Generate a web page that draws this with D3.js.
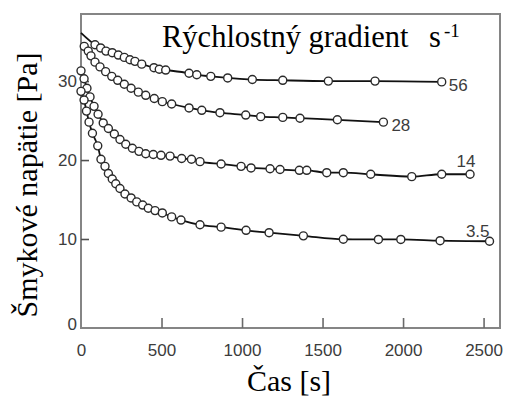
<!DOCTYPE html>
<html>
<head>
<meta charset="utf-8">
<script src="https://cdn.jsdelivr.net/npm/d3@7"></script>
<style>
  body { margin: 0; background: #fff; }
  svg { display: block; }
</style>
</head>
<body>
<div id="chart"></div>
<script>
// shear rate series (s^-1): time [s] and shear stress [Pa]
const seriesNames = ['56', '28', '14', '3.5'];

const t56 = [0, 87, 122, 155, 194, 232, 269, 304, 335, 377, 453, 486, 526, 671, 719, 806, 911, 1064, 1253, 1536, 1826, 2240];
const v56 = [36.1, 34.6, 34.2, 33.8, 33.6, 33.3, 33.0, 32.7, 32.5, 32.15, 31.7, 31.5, 31.4, 31.0, 30.8, 30.6, 30.4, 30.2, 30.1, 30.0, 30.0, 29.9];

const t28 = [20, 45, 62, 87, 118, 153, 191, 228, 269, 311, 356, 402, 455, 505, 563, 671, 750, 863, 1023, 1116, 1253, 1360, 1592, 1878];
const v28 = [34.4, 33.8, 33.2, 32.4, 31.8, 31.2, 30.6, 30.1, 29.6, 29.1, 28.6, 28.2, 27.8, 27.4, 27.1, 26.6, 26.3, 26.0, 25.7, 25.5, 25.4, 25.3, 25.1, 24.8];

const t14 = [0, 19, 37, 56, 81, 106, 138, 170, 207, 242, 278, 319, 360, 402, 449, 497, 553, 625, 686, 739, 870, 994, 1056, 1174, 1236, 1356, 1402, 1526, 1629, 1799, 2054, 2240, 2416];
const v14 = [31.3, 30.3, 29.1, 28.0, 26.8, 25.8, 24.7, 24.0, 23.3, 22.6, 22.0, 21.5, 21.1, 20.8, 20.7, 20.6, 20.5, 20.2, 20.1, 19.8, 19.5, 19.2, 19.0, 18.9, 18.8, 18.7, 18.7, 18.4, 18.4, 18.2, 17.9, 18.2, 18.2];

const t3 = [0, 19, 34, 50, 71, 104, 124, 149, 170, 194, 216, 242, 273, 311, 346, 383, 418, 460, 505, 563, 621, 739, 870, 1025, 1168, 1381, 1629, 1847, 1986, 2230, 2537];
const v3 = [28.7, 27.6, 26.2, 24.8, 23.4, 21.8, 20.1, 19.2, 18.3, 17.6, 17.0, 16.4, 15.7, 15.2, 14.7, 14.3, 13.9, 13.6, 13.3, 12.8, 12.4, 11.8, 11.5, 11.1, 10.8, 10.4, 9.97, 9.95, 9.95, 9.81, 9.75];

const xTicks = [0, 500, 1000, 1500, 2000, 2500];
const yTicks = [0, 10, 20, 30];

const series = [
  { name: seriesNames[0], t: t56, v: v56, markFrom: 1 },
  { name: seriesNames[1], t: t28, v: v28, markFrom: 0 },
  { name: seriesNames[2], t: t14, v: v14, markFrom: 0 },
  { name: seriesNames[3], t: t3, v: v3, markFrom: 0 },
];

const width = 506;
const height = 397;
const plotLeft = 81, plotRight = 500, plotTop = 14, plotBottom = 328;

const svg = d3.select('#chart')
  .append('svg')
  .attr('width', width)
  .attr('height', height);

const x = d3.scaleLinear().domain([0, 2602]).range([plotLeft, plotRight]);
// the printed axis is a bit stretched below 10
const y = d3.scaleLinear().domain([0, 10, 38.5]).range([plotBottom, 239, plotTop]);

const tickFont = '"Liberation Sans", Arial, sans-serif';
const serif = '"Liberation Serif", "Times New Roman", serif';

// frame
svg.append('rect')
  .attr('x', plotLeft)
  .attr('y', plotTop)
  .attr('width', plotRight - plotLeft)
  .attr('height', plotBottom - plotTop)
  .attr('fill', 'none')
  .attr('stroke', '#858585')
  .attr('stroke-width', 2);

// x axis
const xAxis = svg.append('g')
  .attr('transform', `translate(0,${plotBottom})`)
  .call(d3.axisBottom(x).tickValues(xTicks).tickSize(-10).tickPadding(16).tickFormat(d3.format('d')));
xAxis.select('.domain').remove();
xAxis.selectAll('.tick line').attr('stroke', '#6a6a6a').attr('stroke-width', 1.6)
  .filter(d => d === 0).remove();
xAxis.selectAll('.tick text')
  .attr('font-family', tickFont)
  .attr('font-size', 17)
  .attr('fill', '#3c3c3c');

// y axis
const yAxis = svg.append('g')
  .attr('transform', `translate(${plotLeft},0)`)
  .call(d3.axisLeft(y).tickValues(yTicks).tickSize(-8).tickPadding(4).tickFormat(d3.format('d')));
yAxis.select('.domain').remove();
yAxis.selectAll('.tick line').attr('stroke', '#505050').attr('stroke-width', 1.6)
  .filter(d => d === 0).remove();
yAxis.selectAll('.tick text')
  .attr('font-family', tickFont)
  .attr('font-size', 17)
  .attr('fill', '#3c3c3c');
yAxis.selectAll('.tick').filter(d => d === 0).select('text').attr('dy', '0.1em');

// curves
const line = d3.line()
  .x(d => x(d[0]))
  .y(d => y(d[1]))
  .curve(d3.curveMonotoneX);

series.forEach(s => {
  const pts = s.t.map((t, i) => [t, s.v[i]]);
  svg.append('path')
    .datum(pts)
    .attr('d', line)
    .attr('fill', 'none')
    .attr('stroke', '#111')
    .attr('stroke-width', 1.8);

  svg.append('g')
    .selectAll('circle')
    .data(pts.slice(s.markFrom))
    .enter()
    .append('circle')
    .attr('cx', d => x(d[0]))
    .attr('cy', d => y(d[1]))
    .attr('r', 4)
    .attr('fill', '#fff')
    .attr('stroke', '#2a2a2a')
    .attr('stroke-width', 1.4);
});

// series labels next to the last point
const labelPos = {
  '56': { dx: 7, dy: 3, anchor: 'start' },
  '28': { dx: 8, dy: 3, anchor: 'start' },
  '14': { dx: -4, dy: -13, anchor: 'middle' },
  '3.5': { dx: 0, dy: -10, anchor: 'end' },
};
series.forEach(s => {
  const n = s.t.length - 1;
  const p = labelPos[s.name];
  svg.append('text')
    .attr('x', x(s.t[n]) + p.dx)
    .attr('y', y(s.v[n]) + p.dy)
    .attr('dy', '0.35em')
    .attr('text-anchor', p.anchor)
    .attr('font-family', tickFont)
    .attr('font-size', 17)
    .attr('fill', '#3c3c3c')
    .text(s.name);
});

// legend title
svg.append('text')
  .attr('x', 162)
  .attr('y', 47)
  .attr('font-family', serif)
  .attr('font-size', 30.5)
  .attr('fill', '#000')
  .text('Rýchlostný gradient');
const unit = svg.append('text')
  .attr('x', 429)
  .attr('y', 47)
  .attr('font-family', serif)
  .attr('font-size', 30.5)
  .attr('fill', '#000');
unit.append('tspan').text('s');
unit.append('tspan').attr('font-size', 19).attr('dy', -10).attr('dx', 3).text('-1');

// axis titles
svg.append('text')
  .attr('transform', 'translate(37,185) rotate(-90)')
  .attr('text-anchor', 'middle')
  .attr('font-family', serif)
  .attr('font-size', 30)
  .attr('fill', '#000')
  .text('Šmykové napätie [Pa]');

svg.append('text')
  .attr('x', 289)
  .attr('y', 391)
  .attr('text-anchor', 'middle')
  .attr('font-family', serif)
  .attr('font-size', 30)
  .attr('fill', '#000')
  .text('Čas [s]');
</script>
</body>
</html>
